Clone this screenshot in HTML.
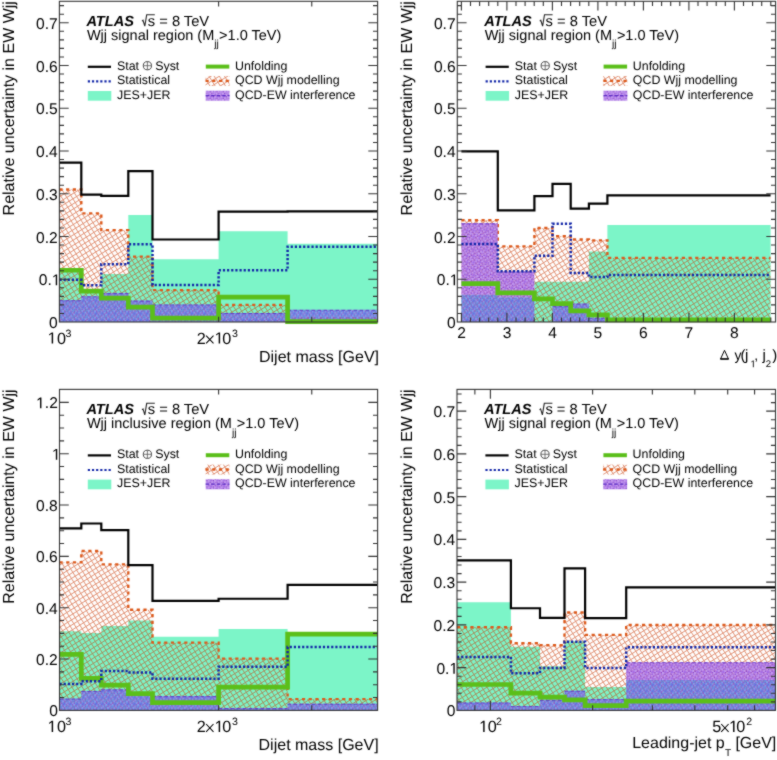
<!DOCTYPE html>
<html><head><meta charset="utf-8"><style>
html,body{margin:0;padding:0;background:#fff;width:777px;height:760px;overflow:hidden}
svg{display:block;will-change:transform}
text{font-family:"Liberation Sans",sans-serif;fill:#000;text-rendering:geometricPrecision}
.t16{font-size:16px}
.tl{font-size:15.6px}
.t12{font-size:12.2px}
.t14{font-size:14.2px}
.at{font-size:14.2px;font-weight:bold;font-style:italic}
</style></head><body>
<svg width="777" height="760" viewBox="0 0 777 760">
<defs>
<filter id="soft" filterUnits="userSpaceOnUse" x="0" y="0" width="777" height="760" color-interpolation-filters="sRGB"><feConvolveMatrix order="3" kernelMatrix="1 2 1 2 16 2 1 2 1" divisor="28" edgeMode="none"/></filter>
<pattern id="hatch" width="4.4" height="4.4" patternUnits="userSpaceOnUse" patternTransform="rotate(-32)">
<path d="M0,0.5H4.4M0.5,0V4.4" stroke="#c83a08" stroke-width="0.9" stroke-opacity="0.55" fill="none"/>
</pattern>
<pattern id="pb" width="6.4" height="6.4" patternUnits="userSpaceOnUse"><rect x="0" y="0" width="1.6" height="1.6" fill="#647deb"/><rect x="1.6" y="0" width="1.6" height="1.6" fill="#9155d2"/><rect x="3.2" y="0" width="1.6" height="1.6" fill="#8796f5"/><rect x="4.8" y="0" width="1.6" height="1.6" fill="#6e64dc"/><rect x="0" y="1.6" width="1.6" height="1.6" fill="#8796f5"/><rect x="1.6" y="1.6" width="1.6" height="1.6" fill="#6e64dc"/><rect x="3.2" y="1.6" width="1.6" height="1.6" fill="#647deb"/><rect x="4.8" y="1.6" width="1.6" height="1.6" fill="#9155d2"/><rect x="0" y="3.2" width="1.6" height="1.6" fill="#9155d2"/><rect x="1.6" y="3.2" width="1.6" height="1.6" fill="#647deb"/><rect x="3.2" y="3.2" width="1.6" height="1.6" fill="#6e64dc"/><rect x="4.8" y="3.2" width="1.6" height="1.6" fill="#8796f5"/><rect x="0" y="4.8" width="1.6" height="1.6" fill="#6e64dc"/><rect x="1.6" y="4.8" width="1.6" height="1.6" fill="#8796f5"/><rect x="3.2" y="4.8" width="1.6" height="1.6" fill="#9155d2"/><rect x="4.8" y="4.8" width="1.6" height="1.6" fill="#647deb"/></pattern>
<pattern id="pv" width="6.4" height="6.4" patternUnits="userSpaceOnUse"><rect x="0" y="0" width="1.6" height="1.6" fill="#aa69e4"/><rect x="1.6" y="0" width="1.6" height="1.6" fill="#8c46cd"/><rect x="3.2" y="0" width="1.6" height="1.6" fill="#c396f0"/><rect x="4.8" y="0" width="1.6" height="1.6" fill="#a06ee8"/><rect x="0" y="1.6" width="1.6" height="1.6" fill="#c396f0"/><rect x="1.6" y="1.6" width="1.6" height="1.6" fill="#a06ee8"/><rect x="3.2" y="1.6" width="1.6" height="1.6" fill="#aa69e4"/><rect x="4.8" y="1.6" width="1.6" height="1.6" fill="#8c46cd"/><rect x="0" y="3.2" width="1.6" height="1.6" fill="#8c46cd"/><rect x="1.6" y="3.2" width="1.6" height="1.6" fill="#aa69e4"/><rect x="3.2" y="3.2" width="1.6" height="1.6" fill="#a06ee8"/><rect x="4.8" y="3.2" width="1.6" height="1.6" fill="#c396f0"/><rect x="0" y="4.8" width="1.6" height="1.6" fill="#a06ee8"/><rect x="1.6" y="4.8" width="1.6" height="1.6" fill="#c396f0"/><rect x="3.2" y="4.8" width="1.6" height="1.6" fill="#8c46cd"/><rect x="4.8" y="4.8" width="1.6" height="1.6" fill="#aa69e4"/></pattern>

<clipPath id="c1"><rect x="59.4" y="1.3" width="318.2" height="320.7"/></clipPath>
<clipPath id="c2"><rect x="457.3" y="1.3" width="318.3" height="320.7"/></clipPath>
<clipPath id="c3"><rect x="59.5" y="389.4" width="318.1" height="321"/></clipPath>
<clipPath id="c4"><rect x="457" y="389.4" width="318.5" height="321"/></clipPath>
</defs>
<rect width="777" height="760" fill="#fff"/>
<g filter="url(#soft)">
<g clip-path="url(#c1)">
<path d="M59.4,322V270.7H81.3V322ZM81.3,322V292.07H101.3V322ZM101.3,322V274.12H128.3V322ZM128.3,322V215.12H152.5V322ZM152.5,322V259.16H218.6V322ZM218.6,322V231.37H287.6V322ZM287.6,322V243.77H377.6V322Z" fill="#7cf5c8"/>
<path d="M59.4,322V189.47H81.3V322ZM81.3,322V213.41H101.3V322ZM101.3,322V230.09H128.3V322ZM128.3,322V256.59H152.5V322ZM152.5,322V290.11H218.6V322ZM218.6,322V304.9H287.6V322ZM287.6,322V318.15H377.6V322Z" fill="url(#hatch)"/>
<path d="M59.4,189.47H81.3V213.41H101.3V230.09H128.3V256.59H152.5V290.11H218.6V304.9H287.6V318.15H377.6" fill="none" stroke="#dc5a1c" stroke-width="2.4" stroke-dasharray="3.2,3.5"/>
<path d="M59.4,322V300.2H81.3V322ZM81.3,322V296.35H101.3V322ZM101.3,322V292.93H128.3V322ZM128.3,322V300.62H152.5V322ZM152.5,322V304.47H218.6V322ZM218.6,322V313.02H287.6V322ZM287.6,322V309.82H377.6V322Z" fill="url(#pb)"/>
<path d="" fill="url(#pv)"/>
<path d="M59.4,300.7H81.3M81.3,296.85H101.3M101.3,293.43H128.3M128.3,301.12H152.5M152.5,304.97H218.6M218.6,313.52H287.6M287.6,310.32H377.6" fill="none" stroke="#5a2cc4" stroke-width="1" stroke-opacity="0.8" stroke-dasharray="3.5,2.5"/>
</g>
<path d="M59.4,270.27H81.3V291.22H101.3V298.06H128.3V307.04H152.5V318.15H218.6V297.2H287.6V321.66H377.6" fill="none" stroke="#5bbf1a" stroke-width="4.7"/>
<g clip-path="url(#c1)">
<path d="M59.4,279.68H81.3V285.24H101.3V264.29H128.3V244.19H152.5V284.98H218.6V270.27H287.6V246.76H377.6" fill="none" stroke="#1226a8" stroke-width="2.5" stroke-dasharray="2.2,1.95"/>
<path d="M59.4,162.54H81.3V194.61H101.3V195.89H128.3V171.09H152.5V239.49H218.6V211.7H287.6V211.28H377.6" fill="none" stroke="#000" stroke-width="2.2"/>
</g>
<g clip-path="url(#c2)">
<path d="M461.4,322V294.64H497.8V322ZM497.8,322V297.2H534.4V322ZM534.4,322V281.81H552.5V322ZM552.5,322V281.81H570.7V322ZM570.7,322V281.81H588.9V322ZM588.9,322V251.46H607.4V322ZM607.4,322V224.96H770.6V322Z" fill="#7cf5c8"/>
<path d="M461.4,322V220.25H497.8V322ZM497.8,322V246.33H534.4V322ZM534.4,322V227.95H552.5V322ZM552.5,322V236.29H570.7V322ZM570.7,322V239.49H588.9V322ZM588.9,322V240.35H607.4V322ZM607.4,322V257.88H770.6V322Z" fill="url(#hatch)"/>
<path d="M461.4,220.25H497.8V246.33H534.4V227.95H552.5V236.29H570.7V239.49H588.9V240.35H607.4V257.88H770.6" fill="none" stroke="#dc5a1c" stroke-width="2.4" stroke-dasharray="3.2,3.5"/>
<path d="M461.4,322V294.64H497.8V322ZM497.8,322V297.2H534.4V322ZM552.5,322V306.18H570.7V322ZM570.7,322V303.62H588.9V322ZM588.9,322V317.73H607.4V322Z" fill="url(#pb)"/>
<path d="M461.4,294.64V223.25H497.8V294.64ZM497.8,297.2V271.56H534.4V297.2Z" fill="url(#pv)"/>
<path d="M461.4,223.75H497.8M497.8,272.06H534.4M552.5,306.68H570.7M570.7,304.12H588.9M588.9,318.23H607.4" fill="none" stroke="#5a2cc4" stroke-width="1" stroke-opacity="0.8" stroke-dasharray="3.5,2.5"/>
</g>
<path d="M461.4,283.7H497.8V292.93H534.4V298.92H552.5V303.62H570.7V310.88H588.9V314.9H607.4V319.86H770.6" fill="none" stroke="#5bbf1a" stroke-width="4.7"/>
<g clip-path="url(#c2)">
<path d="M461.4,243.98H497.8V271.3H534.4V255.74H552.5V223.68H570.7V273.01H588.9V277.11H607.4V274.98H770.6" fill="none" stroke="#1226a8" stroke-width="2.5" stroke-dasharray="2.2,1.95"/>
<path d="M461.4,151.43H497.8V210.42H534.4V196.1H552.5V183.92H570.7V208.71H588.9V203.58H607.4V195.46H770.6" fill="none" stroke="#000" stroke-width="2.2"/>
</g>
<g clip-path="url(#c3)">
<path d="M59.5,710.4V631.34H81.3V710.4ZM81.3,710.4V632.88H101.3V710.4ZM101.3,710.4V625.95H128.3V710.4ZM128.3,710.4V620.4H152.5V710.4ZM152.5,710.4V636.73H218.6V710.4ZM218.6,710.4V629.03H287.6V710.4ZM287.6,710.4V634.67H377.6V710.4Z" fill="#7cf5c8"/>
<path d="M59.5,710.4V562.39H81.3V710.4ZM81.3,710.4V550.99H101.3V710.4ZM101.3,710.4V564.34H128.3V710.4ZM128.3,710.4V609.77H152.5V710.4ZM152.5,710.4V642.63H218.6V710.4ZM218.6,710.4V658.6H287.6V710.4ZM287.6,710.4V699.11H377.6V710.4Z" fill="url(#hatch)"/>
<path d="M59.5,562.39H81.3V550.99H101.3V564.34H128.3V609.77H152.5V642.63H218.6V658.6H287.6V699.11H377.6" fill="none" stroke="#dc5a1c" stroke-width="2.4" stroke-dasharray="3.2,3.5"/>
<path d="M59.5,710.4V698.59H81.3V710.4ZM81.3,710.4V690.89H101.3V710.4ZM101.3,710.4V689.35H128.3V710.4ZM128.3,710.4V695H152.5V710.4ZM152.5,710.4V696.1H218.6V710.4ZM218.6,710.4V708.09H287.6V710.4ZM287.6,710.4V703.73H377.6V710.4Z" fill="url(#pb)"/>
<path d="" fill="url(#pv)"/>
<path d="M59.5,699.09H81.3M81.3,691.39H101.3M101.3,689.85H128.3M128.3,695.5H152.5M152.5,696.6H218.6M218.6,708.59H287.6M287.6,704.23H377.6" fill="none" stroke="#5a2cc4" stroke-width="1" stroke-opacity="0.8" stroke-dasharray="3.5,2.5"/>
</g>
<path d="M59.5,654.44H81.3V678.31H101.3V685.09H128.3V693.59H152.5V702.7H218.6V687.04H287.6V634.16H377.6" fill="none" stroke="#5bbf1a" stroke-width="4.7"/>
<g clip-path="url(#c3)">
<path d="M59.5,683.96H81.3V681.14H101.3V671.12H128.3V672.41H152.5V678.7H218.6V666.76H287.6V647.1H377.6" fill="none" stroke="#1226a8" stroke-width="2.5" stroke-dasharray="2.2,1.95"/>
<path d="M59.5,528.4H81.3V523.52H101.3V530.2H128.3V565.18H152.5V600.79H218.6V598.74H287.6V584.87H377.6" fill="none" stroke="#000" stroke-width="2.2"/>
</g>
<g clip-path="url(#c4)">
<path d="M457,710.4V602.24H510.9V710.4ZM510.9,710.4V646.7H540V710.4ZM540,710.4V666.37H564.5V710.4ZM564.5,710.4V641.14H585.1V710.4ZM585.1,710.4V686.89H626.2V710.4ZM626.2,710.4V680.09H775.5V710.4Z" fill="#7cf5c8"/>
<path d="M457,710.4V627.21H510.9V710.4ZM510.9,710.4V643.28H540V710.4ZM540,710.4V645.21H564.5V710.4ZM564.5,710.4V612.5H585.1V710.4ZM585.1,710.4V634.9H626.2V710.4ZM626.2,710.4V624.99H775.5V710.4Z" fill="url(#hatch)"/>
<path d="M457,627.21H510.9V643.28H540V645.21H564.5V612.5H585.1V634.9H626.2V624.99H775.5" fill="none" stroke="#dc5a1c" stroke-width="2.4" stroke-dasharray="3.2,3.5"/>
<path d="M457,710.4V702.49H510.9V710.4ZM510.9,710.4V706.12H540V710.4ZM540,710.4V699.8H564.5V710.4ZM564.5,710.4V690.74H585.1V710.4ZM585.1,710.4V699.11H626.2V710.4ZM626.2,710.4V680.09H775.5V710.4Z" fill="url(#pb)"/>
<path d="M626.2,680.09V662.18H775.5V680.09Z" fill="url(#pv)"/>
<path d="M457,702.99H510.9M510.9,706.62H540M540,700.3H564.5M564.5,691.24H585.1M585.1,699.61H626.2M626.2,662.68H775.5" fill="none" stroke="#5a2cc4" stroke-width="1" stroke-opacity="0.8" stroke-dasharray="3.5,2.5"/>
</g>
<path d="M457,684.49H510.9V693.17H540V697.15H564.5V699.8H585.1V705.61H626.2V701.21H775.5" fill="none" stroke="#5bbf1a" stroke-width="4.7"/>
<g clip-path="url(#c4)">
<path d="M457,656.96H510.9V673.29H540V667.91H564.5V641.79H585.1V667.91H626.2V647.13H775.5" fill="none" stroke="#1226a8" stroke-width="2.5" stroke-dasharray="2.2,1.95"/>
<path d="M457,560.35H510.9V608.23H540V617.8H564.5V568.47H585.1V618.06H626.2V587.28H775.5" fill="none" stroke="#000" stroke-width="2.2"/>
</g>
<path d="M59.4,313.45H64M373,313.45H377.6M59.4,304.9H64M373,304.9H377.6M59.4,296.35H64M373,296.35H377.6M59.4,287.8H64M373,287.8H377.6M59.4,279.25H68.7M368.3,279.25H377.6M59.4,270.7H64M373,270.7H377.6M59.4,262.15H64M373,262.15H377.6M59.4,253.6H64M373,253.6H377.6M59.4,245.05H64M373,245.05H377.6M59.4,236.5H68.7M368.3,236.5H377.6M59.4,227.95H64M373,227.95H377.6M59.4,219.4H64M373,219.4H377.6M59.4,210.85H64M373,210.85H377.6M59.4,202.3H64M373,202.3H377.6M59.4,193.75H68.7M368.3,193.75H377.6M59.4,185.2H64M373,185.2H377.6M59.4,176.65H64M373,176.65H377.6M59.4,168.1H64M373,168.1H377.6M59.4,159.55H64M373,159.55H377.6M59.4,151H68.7M368.3,151H377.6M59.4,142.45H64M373,142.45H377.6M59.4,133.9H64M373,133.9H377.6M59.4,125.35H64M373,125.35H377.6M59.4,116.8H64M373,116.8H377.6M59.4,108.25H68.7M368.3,108.25H377.6M59.4,99.7H64M373,99.7H377.6M59.4,91.15H64M373,91.15H377.6M59.4,82.6H64M373,82.6H377.6M59.4,74.05H64M373,74.05H377.6M59.4,65.5H68.7M368.3,65.5H377.6M59.4,56.95H64M373,56.95H377.6M59.4,48.4H64M373,48.4H377.6M59.4,39.85H64M373,39.85H377.6M59.4,31.3H64M373,31.3H377.6M59.4,22.75H68.7M368.3,22.75H377.6M59.4,14.2H64M373,14.2H377.6M59.4,5.65H64M373,5.65H377.6M457.3,313.45H461.9M771,313.45H775.6M457.3,304.9H461.9M771,304.9H775.6M457.3,296.35H461.9M771,296.35H775.6M457.3,287.8H461.9M771,287.8H775.6M457.3,279.25H466.6M766.3,279.25H775.6M457.3,270.7H461.9M771,270.7H775.6M457.3,262.15H461.9M771,262.15H775.6M457.3,253.6H461.9M771,253.6H775.6M457.3,245.05H461.9M771,245.05H775.6M457.3,236.5H466.6M766.3,236.5H775.6M457.3,227.95H461.9M771,227.95H775.6M457.3,219.4H461.9M771,219.4H775.6M457.3,210.85H461.9M771,210.85H775.6M457.3,202.3H461.9M771,202.3H775.6M457.3,193.75H466.6M766.3,193.75H775.6M457.3,185.2H461.9M771,185.2H775.6M457.3,176.65H461.9M771,176.65H775.6M457.3,168.1H461.9M771,168.1H775.6M457.3,159.55H461.9M771,159.55H775.6M457.3,151H466.6M766.3,151H775.6M457.3,142.45H461.9M771,142.45H775.6M457.3,133.9H461.9M771,133.9H775.6M457.3,125.35H461.9M771,125.35H775.6M457.3,116.8H461.9M771,116.8H775.6M457.3,108.25H466.6M766.3,108.25H775.6M457.3,99.7H461.9M771,99.7H775.6M457.3,91.15H461.9M771,91.15H775.6M457.3,82.6H461.9M771,82.6H775.6M457.3,74.05H461.9M771,74.05H775.6M457.3,65.5H466.6M766.3,65.5H775.6M457.3,56.95H461.9M771,56.95H775.6M457.3,48.4H461.9M771,48.4H775.6M457.3,39.85H461.9M771,39.85H775.6M457.3,31.3H461.9M771,31.3H775.6M457.3,22.75H466.6M766.3,22.75H775.6M457.3,14.2H461.9M771,14.2H775.6M457.3,5.65H461.9M771,5.65H775.6M59.5,697.56H64.1M373,697.56H377.6M59.5,684.73H64.1M373,684.73H377.6M59.5,671.89H64.1M373,671.89H377.6M59.5,659.06H68.8M368.3,659.06H377.6M59.5,646.23H64.1M373,646.23H377.6M59.5,633.39H64.1M373,633.39H377.6M59.5,620.55H64.1M373,620.55H377.6M59.5,607.72H68.8M368.3,607.72H377.6M59.5,594.88H64.1M373,594.88H377.6M59.5,582.05H64.1M373,582.05H377.6M59.5,569.21H64.1M373,569.21H377.6M59.5,556.38H68.8M368.3,556.38H377.6M59.5,543.54H64.1M373,543.54H377.6M59.5,530.71H64.1M373,530.71H377.6M59.5,517.88H64.1M373,517.88H377.6M59.5,505.04H68.8M368.3,505.04H377.6M59.5,492.2H64.1M373,492.2H377.6M59.5,479.37H64.1M373,479.37H377.6M59.5,466.53H64.1M373,466.53H377.6M59.5,453.7H68.8M368.3,453.7H377.6M59.5,440.86H64.1M373,440.86H377.6M59.5,428.03H64.1M373,428.03H377.6M59.5,415.19H64.1M373,415.19H377.6M59.5,402.36H68.8M368.3,402.36H377.6M457,701.85H461.6M770.9,701.85H775.5M457,693.3H461.6M770.9,693.3H775.5M457,684.75H461.6M770.9,684.75H775.5M457,676.2H461.6M770.9,676.2H775.5M457,667.65H466.3M766.2,667.65H775.5M457,659.1H461.6M770.9,659.1H775.5M457,650.55H461.6M770.9,650.55H775.5M457,642H461.6M770.9,642H775.5M457,633.45H461.6M770.9,633.45H775.5M457,624.9H466.3M766.2,624.9H775.5M457,616.35H461.6M770.9,616.35H775.5M457,607.8H461.6M770.9,607.8H775.5M457,599.25H461.6M770.9,599.25H775.5M457,590.7H461.6M770.9,590.7H775.5M457,582.15H466.3M766.2,582.15H775.5M457,573.6H461.6M770.9,573.6H775.5M457,565.05H461.6M770.9,565.05H775.5M457,556.5H461.6M770.9,556.5H775.5M457,547.95H461.6M770.9,547.95H775.5M457,539.4H466.3M766.2,539.4H775.5M457,530.85H461.6M770.9,530.85H775.5M457,522.3H461.6M770.9,522.3H775.5M457,513.75H461.6M770.9,513.75H775.5M457,505.2H461.6M770.9,505.2H775.5M457,496.65H466.3M766.2,496.65H775.5M457,488.1H461.6M770.9,488.1H775.5M457,479.55H461.6M770.9,479.55H775.5M457,471H461.6M770.9,471H775.5M457,462.45H461.6M770.9,462.45H775.5M457,453.9H466.3M766.2,453.9H775.5M457,445.35H461.6M770.9,445.35H775.5M457,436.8H461.6M770.9,436.8H775.5M457,428.25H461.6M770.9,428.25H775.5M457,419.7H461.6M770.9,419.7H775.5M457,411.15H466.3M766.2,411.15H775.5M457,402.6H461.6M770.9,402.6H775.5M457,394.05H461.6M770.9,394.05H775.5M218.61,322V316.8M218.61,1.3V6.5M311.75,322V316.8M311.75,1.3V6.5M218.61,710.4V705.2M218.61,389.4V394.6M311.75,710.4V705.2M311.75,389.4V394.6M461.4,322V312.7M461.4,1.3V10.6M470.5,322V317.4M470.5,1.3V5.9M479.6,322V317.4M479.6,1.3V5.9M488.7,322V317.4M488.7,1.3V5.9M497.8,322V317.4M497.8,1.3V5.9M506.9,322V312.7M506.9,1.3V10.6M516,322V317.4M516,1.3V5.9M525.1,322V317.4M525.1,1.3V5.9M534.2,322V317.4M534.2,1.3V5.9M543.3,322V317.4M543.3,1.3V5.9M552.4,322V312.7M552.4,1.3V10.6M561.5,322V317.4M561.5,1.3V5.9M570.6,322V317.4M570.6,1.3V5.9M579.7,322V317.4M579.7,1.3V5.9M588.8,322V317.4M588.8,1.3V5.9M597.9,322V312.7M597.9,1.3V10.6M607,322V317.4M607,1.3V5.9M616.1,322V317.4M616.1,1.3V5.9M625.2,322V317.4M625.2,1.3V5.9M634.3,322V317.4M634.3,1.3V5.9M643.4,322V312.7M643.4,1.3V10.6M652.5,322V317.4M652.5,1.3V5.9M661.6,322V317.4M661.6,1.3V5.9M670.7,322V317.4M670.7,1.3V5.9M679.8,322V317.4M679.8,1.3V5.9M688.9,322V312.7M688.9,1.3V10.6M698,322V317.4M698,1.3V5.9M707.1,322V317.4M707.1,1.3V5.9M716.2,322V317.4M716.2,1.3V5.9M725.3,322V317.4M725.3,1.3V5.9M734.4,322V312.7M734.4,1.3V10.6M743.5,322V317.4M743.5,1.3V5.9M752.6,322V317.4M752.6,1.3V5.9M761.7,322V317.4M761.7,1.3V5.9M770.8,322V317.4M770.8,1.3V5.9M474.87,710.4V705.2M474.87,389.4V394.6M490.4,710.4V701.1M490.4,389.4V398.7M592.6,710.4V705.2M592.6,389.4V394.6M652.38,710.4V705.2M652.38,389.4V394.6M694.8,710.4V705.2M694.8,389.4V394.6M727.7,710.4V705.2M727.7,389.4V394.6M754.58,710.4V705.2M754.58,389.4V394.6" stroke="#333" stroke-width="1.1" fill="none"/>
<rect x="59.4" y="1.3" width="318.2" height="320.7" fill="none" stroke="#333" stroke-width="1.1"/>
<rect x="457.3" y="1.3" width="318.3" height="320.7" fill="none" stroke="#333" stroke-width="1.1"/>
<rect x="59.5" y="389.4" width="318.1" height="321" fill="none" stroke="#333" stroke-width="1.1"/>
<rect x="457" y="389.4" width="318.5" height="321" fill="none" stroke="#333" stroke-width="1.1"/>
<text x="49.03" y="328" font-size="15.6">0</text>
<text x="38.82" y="285.25" font-size="15.6">0</text>
<text x="47.49" y="285.25" font-size="15.6">.</text>
<path d="M515,0L696,0L696,1409L530,1409L197,1180L197,1010L515,1237Z" transform="translate(51.83,285.25) scale(0.00762,-0.00762)"/>
<text x="36.02" y="242.5" font-size="15.6">0.2</text>
<text x="36.02" y="199.75" font-size="15.6">0.3</text>
<text x="36.02" y="157" font-size="15.6">0.4</text>
<text x="36.02" y="114.25" font-size="15.6">0.5</text>
<text x="36.02" y="71.5" font-size="15.6">0.6</text>
<text x="36.02" y="28.75" font-size="15.6">0.7</text>
<text x="446.93" y="328" font-size="15.6">0</text>
<text x="436.72" y="285.25" font-size="15.6">0</text>
<text x="445.39" y="285.25" font-size="15.6">.</text>
<path d="M515,0L696,0L696,1409L530,1409L197,1180L197,1010L515,1237Z" transform="translate(449.73,285.25) scale(0.00762,-0.00762)"/>
<text x="433.92" y="242.5" font-size="15.6">0.2</text>
<text x="433.92" y="199.75" font-size="15.6">0.3</text>
<text x="433.92" y="157" font-size="15.6">0.4</text>
<text x="433.92" y="114.25" font-size="15.6">0.5</text>
<text x="433.92" y="71.5" font-size="15.6">0.6</text>
<text x="433.92" y="28.75" font-size="15.6">0.7</text>
<text x="49.13" y="716.4" font-size="15.6">0</text>
<text x="36.12" y="665.06" font-size="15.6">0.2</text>
<text x="36.12" y="613.72" font-size="15.6">0.4</text>
<text x="36.12" y="562.38" font-size="15.6">0.6</text>
<text x="36.12" y="511.04" font-size="15.6">0.8</text>
<path d="M515,0L696,0L696,1409L530,1409L197,1180L197,1010L515,1237Z" transform="translate(51.93,459.7) scale(0.00762,-0.00762)"/>
<path d="M515,0L696,0L696,1409L530,1409L197,1180L197,1010L515,1237Z" transform="translate(36.12,408.36) scale(0.00762,-0.00762)"/>
<text x="44.79" y="408.36" font-size="15.6">.</text>
<text x="49.13" y="408.36" font-size="15.6">2</text>
<text x="446.63" y="716.4" font-size="15.6">0</text>
<text x="436.42" y="673.65" font-size="15.6">0</text>
<text x="445.09" y="673.65" font-size="15.6">.</text>
<path d="M515,0L696,0L696,1409L530,1409L197,1180L197,1010L515,1237Z" transform="translate(449.43,673.65) scale(0.00762,-0.00762)"/>
<text x="433.62" y="630.9" font-size="15.6">0.2</text>
<text x="433.62" y="588.15" font-size="15.6">0.3</text>
<text x="433.62" y="545.4" font-size="15.6">0.4</text>
<text x="433.62" y="502.65" font-size="15.6">0.5</text>
<text x="433.62" y="459.9" font-size="15.6">0.6</text>
<text x="433.62" y="417.15" font-size="15.6">0.7</text>
<text x="457.26" y="338.2" font-size="15.6">2</text>
<text x="502.71" y="338.2" font-size="15.6">3</text>
<text x="548.16" y="338.2" font-size="15.6">4</text>
<text x="593.61" y="338.2" font-size="15.6">5</text>
<text x="639.06" y="338.2" font-size="15.6">6</text>
<text x="684.51" y="338.2" font-size="15.6">7</text>
<text x="729.96" y="338.2" font-size="15.6">8</text>
<path d="M515,0L696,0L696,1409L530,1409L197,1180L197,1010L515,1237Z" transform="translate(47.61,343.6) scale(0.00791,-0.00791)"/>
<text x="57.07" y="343.6" font-size="16.2">0</text>
<text x="65.58" y="336.6" font-size="10.6">3</text>
<text x="196.79" y="343.6" font-size="16.2">2</text>
<path d="M206.1,335.6L213.5,343.4M206.1,343.4L213.5,335.6" stroke="#000" stroke-width="1.05" fill="none"/>
<path d="M515,0L696,0L696,1409L530,1409L197,1180L197,1010L515,1237Z" transform="translate(214.61,343.6) scale(0.00791,-0.00791)"/>
<text x="222.17" y="343.6" font-size="16.2">0</text>
<text x="231.88" y="336.8" font-size="10.6">3</text>
<path d="M515,0L696,0L696,1409L530,1409L197,1180L197,1010L515,1237Z" transform="translate(47.61,732) scale(0.00791,-0.00791)"/>
<text x="57.07" y="732" font-size="16.2">0</text>
<text x="65.58" y="725" font-size="10.6">3</text>
<text x="196.79" y="732" font-size="16.2">2</text>
<path d="M206.1,724L213.5,731.8M206.1,731.8L213.5,724" stroke="#000" stroke-width="1.05" fill="none"/>
<path d="M515,0L696,0L696,1409L530,1409L197,1180L197,1010L515,1237Z" transform="translate(214.61,732) scale(0.00791,-0.00791)"/>
<text x="222.17" y="732" font-size="16.2">0</text>
<text x="231.88" y="725.2" font-size="10.6">3</text>
<path d="M515,0L696,0L696,1409L530,1409L197,1180L197,1010L515,1237Z" transform="translate(479.11,732) scale(0.00791,-0.00791)"/>
<text x="487.87" y="732" font-size="16.2">0</text>
<text x="495.98" y="724.8" font-size="10.6">2</text>
<text x="712.25" y="732" font-size="16.2">5</text>
<path d="M721.2,724L728.6,731.8M721.2,731.8L728.6,724" stroke="#000" stroke-width="1.05" fill="none"/>
<path d="M515,0L696,0L696,1409L530,1409L197,1180L197,1010L515,1237Z" transform="translate(729.01,732) scale(0.00791,-0.00791)"/>
<text x="736.17" y="732" font-size="16.2">0</text>
<text x="746.28" y="725" font-size="10.6">2</text>
<text x="379" y="362" class="t16" text-anchor="end">Dijet mass [GeV]</text>
<text x="378.6" y="749.9" class="t16" text-anchor="end">Dijet mass [GeV]</text>
<text x="632.2" y="748.2" font-size="16">Leading-jet p</text>
<text x="724.9" y="756" font-size="10">T</text>
<text x="735.4" y="748.2" font-size="16">[GeV]</text>
<path d="M720.5,359.1L724.5,350.3L728.5,359.1Z" fill="none" stroke="#000" stroke-width="1.0" stroke-linejoin="miter"/><path d="M720.3,358.9H728.7" stroke="#000" stroke-width="1.3"/>
<text x="734.5" y="359.5" font-size="14">y</text>
<text x="740.4" y="359.5" font-size="15">(</text>
<text x="745.1" y="359.5" font-size="15">j</text>
<path d="M515,0L696,0L696,1409L530,1409L197,1180L197,1010L515,1237Z" transform="translate(750.4,367.3) scale(0.00479,-0.00479)"/>
<text x="754.3" y="359.8" font-size="14">,</text>
<text x="762.6" y="359.5" font-size="15">j</text>
<text x="765.8" y="367.3" font-size="9.5">2</text>
<text x="772.2" y="359.5" font-size="15">)</text>
<text transform="translate(14.2,1.1) rotate(-90)" x="0" y="0" class="t16" text-anchor="end">Relative uncertainty in EW Wjj</text>
<text transform="translate(411.5,1.1) rotate(-90)" x="0" y="0" class="t16" text-anchor="end">Relative uncertainty in EW Wjj</text>
<text transform="translate(14.2,389.4) rotate(-90)" x="0" y="0" class="t16" text-anchor="end">Relative uncertainty in EW Wjj</text>
<text transform="translate(411.5,389.4) rotate(-90)" x="0" y="0" class="t16" text-anchor="end">Relative uncertainty in EW Wjj</text>
<text x="86.4" y="25.5" font-size="14.6" font-weight="bold" font-style="italic">ATLAS</text>
<path d="M142,21.2L143,20.3L144.8,26.2L146.7,14.7H154.8" fill="none" stroke="#222" stroke-width="1.1" stroke-linejoin="miter"/>
<text x="147.8" y="25.7" font-size="14.7">s = 8 TeV</text>
<text x="86.9" y="39.7" font-size="14.5">Wjj signal region (M</text>
<text x="86.9" y="39.7" font-size="14.5"><tspan fill-opacity="0">Wjj signal region (M</tspan><tspan dy="7.4" font-size="10.3">jj</tspan><tspan dy="-7.4" dx="0.3">&gt;1.0 TeV)</tspan></text>
<path d="M87.8,66.8H111" stroke="#000" stroke-width="2.2"/>
<path d="M87.8,81.4H111" stroke="#1226a8" stroke-width="2.2" stroke-dasharray="2.2,1.95"/>
<rect x="87.8" y="91" width="23.5" height="9.7" fill="#7cf5c8"/>
<path d="M205.8,66.6H229.3" stroke="#5bbf1a" stroke-width="4"/>
<rect x="205.5" y="76" width="24" height="10" fill="url(#hatch)"/>
<path d="M205.5,80.9h24" stroke="#dc5a1c" stroke-width="2.4" stroke-dasharray="3.2,3.5"/>
<rect x="205.7" y="90.7" width="23.8" height="10" fill="url(#pv)"/>
<path d="M205.7,95.6h23.8" stroke="#5a2cc4" stroke-width="1.2" stroke-dasharray="3.5,2"/>
<text x="117" y="69.5" font-size="12.4">Stat</text>
<circle cx="147.4" cy="65.7" r="4.1" fill="none" stroke="#333" stroke-width="0.9"/><path d="M143.3,65.7h8.2M147.4,61.6v8.2" stroke="#555" stroke-width="0.8"/>
<text x="155.2" y="69.5" font-size="12.4">Syst</text>
<text x="117" y="83.9" font-size="12.4">Statistical</text>
<text x="117" y="98.5" font-size="12.4">JES+JER</text>
<text x="235" y="69.5" font-size="12.4">Unfolding</text>
<text x="235" y="83.9" font-size="12.4">QCD Wjj modelling</text>
<text x="235" y="98.5" font-size="12.4">QCD-EW interference</text>
<text x="484.2" y="25.5" font-size="14.6" font-weight="bold" font-style="italic">ATLAS</text>
<path d="M539.8,21.2L540.8,20.3L542.6,26.2L544.5,14.7H552.6" fill="none" stroke="#222" stroke-width="1.1" stroke-linejoin="miter"/>
<text x="545.6" y="25.7" font-size="14.7">s = 8 TeV</text>
<text x="484.7" y="39.7" font-size="14.5">Wjj signal region (M</text>
<text x="484.7" y="39.7" font-size="14.5"><tspan fill-opacity="0">Wjj signal region (M</tspan><tspan dy="7.4" font-size="10.3">jj</tspan><tspan dy="-7.4" dx="0.3">&gt;1.0 TeV)</tspan></text>
<path d="M485.6,66.8H508.8" stroke="#000" stroke-width="2.2"/>
<path d="M485.6,81.4H508.8" stroke="#1226a8" stroke-width="2.2" stroke-dasharray="2.2,1.95"/>
<rect x="485.6" y="91" width="23.5" height="9.7" fill="#7cf5c8"/>
<path d="M603.6,66.6H627.1" stroke="#5bbf1a" stroke-width="4"/>
<rect x="603.3" y="76" width="24" height="10" fill="url(#hatch)"/>
<path d="M603.3,80.9h24" stroke="#dc5a1c" stroke-width="2.4" stroke-dasharray="3.2,3.5"/>
<rect x="603.5" y="90.7" width="23.8" height="10" fill="url(#pv)"/>
<path d="M603.5,95.6h23.8" stroke="#5a2cc4" stroke-width="1.2" stroke-dasharray="3.5,2"/>
<text x="514.8" y="69.5" font-size="12.4">Stat</text>
<circle cx="545.2" cy="65.7" r="4.1" fill="none" stroke="#333" stroke-width="0.9"/><path d="M541.1,65.7h8.2M545.2,61.6v8.2" stroke="#555" stroke-width="0.8"/>
<text x="553" y="69.5" font-size="12.4">Syst</text>
<text x="514.8" y="83.9" font-size="12.4">Statistical</text>
<text x="514.8" y="98.5" font-size="12.4">JES+JER</text>
<text x="632.8" y="69.5" font-size="12.4">Unfolding</text>
<text x="632.8" y="83.9" font-size="12.4">QCD Wjj modelling</text>
<text x="632.8" y="98.5" font-size="12.4">QCD-EW interference</text>
<text x="86.4" y="414.1" font-size="14.6" font-weight="bold" font-style="italic">ATLAS</text>
<path d="M142,409.8L143,408.9L144.8,414.8L146.7,403.3H154.8" fill="none" stroke="#222" stroke-width="1.1" stroke-linejoin="miter"/>
<text x="147.8" y="414.3" font-size="14.7">s = 8 TeV</text>
<text x="86.9" y="428.3" font-size="14.5">Wjj inclusive region (M</text>
<text x="86.9" y="428.3" font-size="14.5"><tspan fill-opacity="0">Wjj inclusive region (M</tspan><tspan dy="7.4" font-size="10.3">jj</tspan><tspan dy="-7.4" dx="0.3">&gt;1.0 TeV)</tspan></text>
<path d="M87.8,455.4H111" stroke="#000" stroke-width="2.2"/>
<path d="M87.8,470H111" stroke="#1226a8" stroke-width="2.2" stroke-dasharray="2.2,1.95"/>
<rect x="87.8" y="479.6" width="23.5" height="9.7" fill="#7cf5c8"/>
<path d="M205.8,455.2H229.3" stroke="#5bbf1a" stroke-width="4"/>
<rect x="205.5" y="464.6" width="24" height="10" fill="url(#hatch)"/>
<path d="M205.5,469.5h24" stroke="#dc5a1c" stroke-width="2.4" stroke-dasharray="3.2,3.5"/>
<rect x="205.7" y="479.3" width="23.8" height="10" fill="url(#pv)"/>
<path d="M205.7,484.2h23.8" stroke="#5a2cc4" stroke-width="1.2" stroke-dasharray="3.5,2"/>
<text x="117" y="458.1" font-size="12.4">Stat</text>
<circle cx="147.4" cy="454.3" r="4.1" fill="none" stroke="#333" stroke-width="0.9"/><path d="M143.3,454.3h8.2M147.4,450.2v8.2" stroke="#555" stroke-width="0.8"/>
<text x="155.2" y="458.1" font-size="12.4">Syst</text>
<text x="117" y="472.5" font-size="12.4">Statistical</text>
<text x="117" y="487.1" font-size="12.4">JES+JER</text>
<text x="235" y="458.1" font-size="12.4">Unfolding</text>
<text x="235" y="472.5" font-size="12.4">QCD Wjj modelling</text>
<text x="235" y="487.1" font-size="12.4">QCD-EW interference</text>
<text x="484" y="414.1" font-size="14.6" font-weight="bold" font-style="italic">ATLAS</text>
<path d="M539.6,409.8L540.6,408.9L542.4,414.8L544.3,403.3H552.4" fill="none" stroke="#222" stroke-width="1.1" stroke-linejoin="miter"/>
<text x="545.4" y="414.3" font-size="14.7">s = 8 TeV</text>
<text x="484.5" y="428.3" font-size="14.5">Wjj signal region (M</text>
<text x="484.5" y="428.3" font-size="14.5"><tspan fill-opacity="0">Wjj signal region (M</tspan><tspan dy="7.4" font-size="10.3">jj</tspan><tspan dy="-7.4" dx="0.3">&gt;1.0 TeV)</tspan></text>
<path d="M485.4,455.4H508.6" stroke="#000" stroke-width="2.2"/>
<path d="M485.4,470H508.6" stroke="#1226a8" stroke-width="2.2" stroke-dasharray="2.2,1.95"/>
<rect x="485.4" y="479.6" width="23.5" height="9.7" fill="#7cf5c8"/>
<path d="M603.4,455.2H626.9" stroke="#5bbf1a" stroke-width="4"/>
<rect x="603.1" y="464.6" width="24" height="10" fill="url(#hatch)"/>
<path d="M603.1,469.5h24" stroke="#dc5a1c" stroke-width="2.4" stroke-dasharray="3.2,3.5"/>
<rect x="603.3" y="479.3" width="23.8" height="10" fill="url(#pv)"/>
<path d="M603.3,484.2h23.8" stroke="#5a2cc4" stroke-width="1.2" stroke-dasharray="3.5,2"/>
<text x="514.6" y="458.1" font-size="12.4">Stat</text>
<circle cx="545" cy="454.3" r="4.1" fill="none" stroke="#333" stroke-width="0.9"/><path d="M540.9,454.3h8.2M545,450.2v8.2" stroke="#555" stroke-width="0.8"/>
<text x="552.8" y="458.1" font-size="12.4">Syst</text>
<text x="514.6" y="472.5" font-size="12.4">Statistical</text>
<text x="514.6" y="487.1" font-size="12.4">JES+JER</text>
<text x="632.6" y="458.1" font-size="12.4">Unfolding</text>
<text x="632.6" y="472.5" font-size="12.4">QCD Wjj modelling</text>
<text x="632.6" y="487.1" font-size="12.4">QCD-EW interference</text>
</g></svg></body></html>
